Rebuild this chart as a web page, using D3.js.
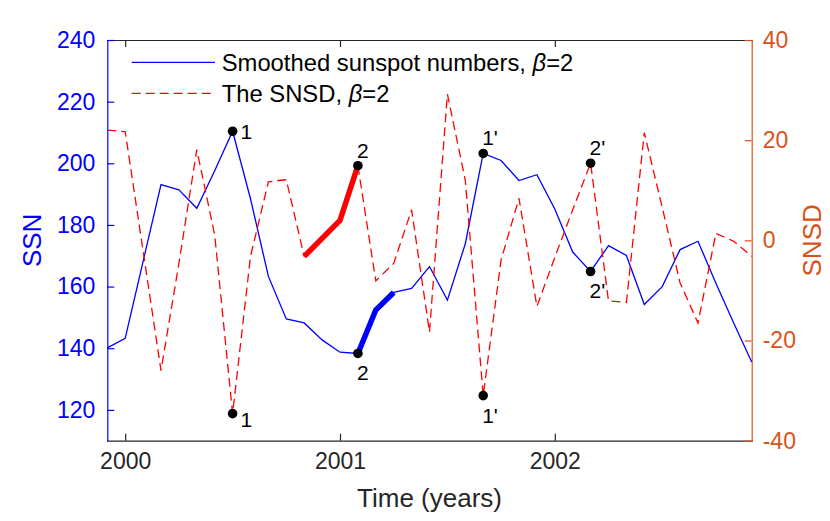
<!DOCTYPE html>
<html>
<head>
<meta charset="utf-8">
<script src="https://cdn.jsdelivr.net/npm/d3@7/dist/d3.min.js"></script>
<style>
body { margin: 0; background: #fff; }
text { font-family: "Liberation Sans", Arial, Helvetica, sans-serif; }
</style>
</head>
<body>
<svg id="chart" width="830" height="521"></svg>
<script>
'use strict'

// monthly samples, Dec 1999 .. Dec 2002
const months = [
	'1999-12',
	'2000-01','2000-02','2000-03','2000-04','2000-05','2000-06',
	'2000-07','2000-08','2000-09','2000-10','2000-11','2000-12',
	'2001-01','2001-02','2001-03','2001-04','2001-05','2001-06',
	'2001-07','2001-08','2001-09','2001-10','2001-11','2001-12',
	'2002-01','2002-02','2002-03','2002-04','2002-05','2002-06',
	'2002-07','2002-08','2002-09','2002-10','2002-11','2002-12'
]

const ssn = [
	140.1,
	143.2, 168.2, 193.1, 191.4, 185.4, 197.6,
	210.4, 188.5, 163.3, 149.5, 148.2, 142.7,
	138.7, 138.3, 152.4, 158.1, 159.4, 166.5,
	155.6, 173.9, 203.2, 200.9, 194.4, 196.3,
	185.2, 171.2, 164.9, 173.3, 170.1, 154.2,
	160.0, 172.0, 174.7, 161.1, 148.1, 135.5
]

const snsd = [
	22.0,
	21.7, -2.1, -26.0, -4.6, 18.1, 1.1,
	-34.6, -3.2, 11.7, 12.1, -3.2, 0.4,
	4.0, 14.9, -8.1, -4.6, 6.1, -18.3,
	29.2, 12.0, -31.0, -3.9, 8.4, -13.2,
	-3.4, 6.1, 15.4, -12.1, -12.4, 21.5,
	6.6, -8.5, -16.5, 1.4, -0.2, -3.2
]

const xTicks = [2000, 2001, 2002]
const ssnTicks = [120, 140, 160, 180, 200, 220, 240]
const snsdTicks = [-40, -20, 0, 20, 40]

// thick highlighted stretches
const highlights = [
	{ series: 'snsd', from: '2000-11', to: '2001-02' },
	{ series: 'ssn', from: '2001-02', to: '2001-04' }
]

// marked extrema
const marks = [
	{ series: 'ssn', month: '2000-07', label: '1', place: 'right' },
	{ series: 'snsd', month: '2000-07', label: '1', place: 'rightlow' },
	{ series: 'snsd', month: '2001-02', label: '2', place: 'above' },
	{ series: 'ssn', month: '2001-02', label: '2', place: 'below' },
	{ series: 'ssn', month: '2001-09', label: "1'", place: 'above' },
	{ series: 'snsd', month: '2001-09', label: "1'", place: 'below' },
	{ series: 'snsd', month: '2002-03', label: "2'", place: 'above' },
	{ series: 'ssn', month: '2002-03', label: "2'", place: 'below' }
]

const legendItems = [
	{ series: 'ssn', text: 'Smoothed sunspot numbers, β=2' },
	{ series: 'snsd', text: 'The SNSD, β=2' }
]

const BLUE = '#0000ff'
const RED = '#ff0000'
const ORANGE = '#d95319'
const GRAY = '#262626'

const toYear = m => {
	const p = m.split('-')
	return +p[0] + (+p[1] - 1) / 12
}
const t = months.map(toYear)

const margins = { left: 107.3, right: 751.7, top: 40, bottom: 440.7 }

const x = d3.scaleLinear().domain([t[0], t[t.length - 1]]).range([margins.left, margins.right])
const yL = d3.scaleLinear().domain([110, 240]).range([margins.bottom, margins.top])
const yR = d3.scaleLinear().domain([-40, 40]).range([margins.bottom, margins.top])

const seriesInfo = {
	ssn: { values: ssn, scale: yL, color: BLUE, dash: null },
	snsd: { values: snsd, scale: yR, color: RED, dash: '9,5' }
}

const svg = d3.select('#chart')

// axes (plain hyphen for negatives, like the original)
const tickFont = '23px'
const plain = d => String(d)

svg.append('g')
	.attr('transform', 'translate(0,' + margins.top + ')')
	.call(d3.axisTop(x).tickValues(xTicks).tickSizeInner(-7).tickSizeOuter(0).tickFormat(''))
	.call(g => g.selectAll('path,line').attr('stroke', GRAY).attr('stroke-width', 1.2))

svg.append('g')
	.attr('transform', 'translate(0,' + margins.bottom + ')')
	.call(d3.axisBottom(x).tickValues(xTicks).tickSizeInner(-7).tickSizeOuter(0).tickPadding(12).tickFormat(plain))
	.call(g => g.selectAll('path,line').attr('stroke', GRAY).attr('stroke-width', 1.2))
	.call(g => g.selectAll('text').attr('fill', GRAY).style('font-size', tickFont))

svg.append('g')
	.attr('transform', 'translate(' + margins.left + ',0)')
	.call(d3.axisLeft(yL).tickValues(ssnTicks).tickSizeInner(-7).tickSizeOuter(0).tickPadding(12).tickFormat(plain))
	.call(g => g.selectAll('path,line').attr('stroke', BLUE).attr('stroke-width', 1.2))
	.call(g => g.selectAll('text').attr('fill', BLUE).style('font-size', tickFont))

svg.append('g')
	.attr('transform', 'translate(' + margins.right + ',0)')
	.call(d3.axisRight(yR).tickValues(snsdTicks).tickSizeInner(-7).tickSizeOuter(0).tickPadding(11).tickFormat(plain))
	.call(g => g.selectAll('path,line').attr('stroke', ORANGE).attr('stroke-width', 1.2))
	.call(g => g.selectAll('text').attr('fill', ORANGE).style('font-size', tickFont))

svg.selectAll('.domain').attr('stroke-linecap', 'square')

// axis titles
svg.append('text')
	.attr('x', (margins.left + margins.right) / 2)
	.attr('y', 507)
	.attr('text-anchor', 'middle')
	.attr('fill', GRAY)
	.style('font-size', '26px')
	.text('Time (years)')

svg.append('text')
	.attr('transform', 'translate(40.5,' + ((margins.top + margins.bottom) / 2) + ') rotate(-90)')
	.attr('text-anchor', 'middle')
	.attr('fill', BLUE)
	.style('font-size', '26px')
	.text('SSN')

svg.append('text')
	.attr('transform', 'translate(821,' + ((margins.top + margins.bottom) / 2) + ') rotate(-90)')
	.attr('text-anchor', 'middle')
	.attr('fill', ORANGE)
	.style('font-size', '26px')
	.text('SNSD')

// series lines
const plot = svg.append('g')

for (const key of ['ssn', 'snsd']) {
	const s = seriesInfo[key]
	const line = d3.line().x((d, i) => x(t[i])).y(d => s.scale(d))
	plot.append('path')
		.datum(s.values)
		.attr('fill', 'none')
		.attr('stroke', s.color)
		.attr('stroke-width', 1.3)
		.attr('stroke-dasharray', s.dash)
		.attr('d', line)
}

for (const h of highlights) {
	const s = seriesInfo[h.series]
	const i0 = months.indexOf(h.from)
	const i1 = months.indexOf(h.to)
	const idx = d3.range(i0, i1 + 1)
	plot.append('path')
		.datum(idx)
		.attr('fill', 'none')
		.attr('stroke', s.color)
		.attr('stroke-width', 5.5)
		.attr('d', d3.line().x(i => x(t[i])).y(i => s.scale(s.values[i])))
}

// markers and their labels
const labelOffsets = {
	right: [8, 8],
	rightlow: [8, 13],
	above: [-1, -8],
	below: [-1, 27]
}

for (const m of marks) {
	const s = seriesInfo[m.series]
	const i = months.indexOf(m.month)
	const cx = x(t[i])
	const cy = s.scale(s.values[i])
	plot.append('circle')
		.attr('cx', cx)
		.attr('cy', cy)
		.attr('r', 4.8)
		.attr('fill', '#000')
	const off = labelOffsets[m.place]
	plot.append('text')
		.attr('x', cx + off[0])
		.attr('y', cy + off[1])
		.attr('fill', '#000')
		.style('font-size', '21px')
		.text(m.label)
}

// legend
const legend = svg.append('g')
legendItems.forEach((item, k) => {
	const s = seriesInfo[item.series]
	const ly = 62.3 + k * 31
	legend.append('line')
		.attr('x1', 131.7).attr('x2', 215)
		.attr('y1', ly).attr('y2', ly)
		.attr('stroke', s.color)
		.attr('stroke-width', 1.3)
		.attr('stroke-dasharray', s.dash)
	const txt = legend.append('text')
		.attr('x', 221.7)
		.attr('y', ly + 8.8)
		.attr('fill', '#000')
		.style('font-size', '23.8px')
	const parts = item.text.split('β')
	txt.append('tspan').text(parts[0])
	txt.append('tspan').style('font-style', 'italic').text('β')
	txt.append('tspan').text(parts[1])
})
</script>
</body>
</html>
